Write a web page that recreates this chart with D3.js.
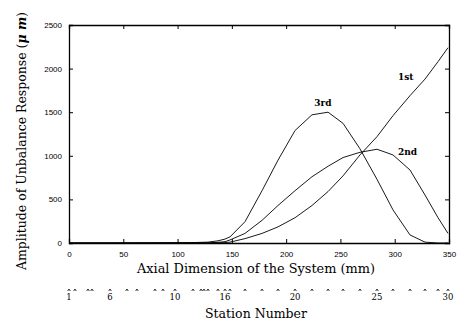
<!DOCTYPE html>
<html>
<head>
<meta charset="utf-8">
<script src="https://cdn.jsdelivr.net/npm/d3@7"></script>
<style>
  html, body { margin: 0; padding: 0; background: #fff; }
  svg { display: block; }
</style>
</head>
<body>
<svg id="chart" width="459" height="323"></svg>
<script>
// ---- data ----
const axialPos = [0, 17.5, 37.8, 62.6, 86.6, 114.2, 128, 137.2, 143.7, 148.3, 162.1, 177.8, 192.5, 208.2, 223.8, 238.6, 252.4, 268, 283.7, 298.4, 314.1, 327.9, 339.9, 349.1];
const mode1 = [0, 0, 0, 0, 0, 0, 0, 2, 5, 10, 50, 110, 185, 290, 430, 590, 770, 1010, 1220, 1460, 1690, 1880, 2080, 2240];
const mode2 = [0, 0, 0, 0, 0, 0, 2, 8, 15, 35, 110, 260, 430, 600, 760, 880, 980, 1040, 1075, 1010, 837, 550, 290, 110];
const mode3 = [0, 0, 0, 2, 3, 5, 10, 25, 45, 70, 244, 600, 950, 1290, 1470, 1500, 1372, 1080, 730, 380, 92, 10, 0, 0];
const seriesNames = ["1st", "2nd", "3rd"];
const labelAt = [[303, 1870], [303, 1009], [226, 1571]]; // label anchor in data units

const xTicks = [0, 50, 100, 150, 200, 250, 300, 350];
const yTicks = [0, 500, 1000, 1500, 2000, 2500];

// station marks (axial position, mm) and numbered stations
const stationPos = [0, 5.5, 17.5, 21.2, 37.8, 53.4, 62.6, 79.2, 86.6, 97.6, 114.2, 121.6, 124.3, 128, 137.2, 143.7, 148.3, 162.1, 177.8, 192.5, 208.2, 223.8, 238.6, 252.4, 268, 283.7, 298.4, 314.1, 327.9, 339.9, 349.1];
const stationLabels = [["1", 0], ["6", 37.8], ["10", 97.6], ["16", 143.7], ["20", 208.2], ["25", 283.7], ["30", 349.1]];

// ---- drawing ----
const svg = d3.select("#chart");
const x = d3.scaleLinear().domain([0, 350]).range([69, 449]);
const y = d3.scaleLinear().domain([0, 2500]).range([243, 25]);

const tickFont = "'Liberation Sans', Arial, sans-serif";
const serif = "'DejaVu Serif', serif";

// axes (inward ticks, MATLAB style)
const gB = svg.append("g").attr("transform", `translate(0,${y(0)})`)
  .call(d3.axisBottom(x).tickValues(xTicks).tickSize(-4).tickPadding(8).tickFormat(d3.format("d")));
const gT = svg.append("g").attr("transform", `translate(0,${y(2500)})`)
  .call(d3.axisTop(x).tickValues(xTicks).tickSize(-4).tickFormat(""));
const gL = svg.append("g").attr("transform", `translate(${x(0)},0)`)
  .call(d3.axisLeft(y).tickValues(yTicks).tickSize(-4).tickPadding(7).tickFormat(d3.format("d")));
const gR = svg.append("g").attr("transform", `translate(${x(350)},0)`)
  .call(d3.axisRight(y).tickValues(yTicks).tickSize(-4).tickFormat(""));

[gB, gT, gL, gR].forEach(g => {
  g.select(".domain").attr("stroke", "#000").attr("stroke-width", 1.3);
  g.selectAll(".tick line").attr("stroke", "#000");
  g.selectAll("text").attr("font-family", tickFont).attr("font-size", 8).attr("fill", "#000");
});

// curves
const line = d3.line().x((d, i) => x(axialPos[i])).y(d => y(d));
[mode1, mode2, mode3].forEach(s => {
  svg.append("path").datum(s).attr("d", line)
    .attr("fill", "none").attr("stroke", "#000").attr("stroke-width", 0.9);
});

// curve labels
seriesNames.forEach((n, i) => {
  svg.append("text").attr("x", x(labelAt[i][0])).attr("y", y(labelAt[i][1]))
    .attr("font-family", serif).attr("font-weight", "bold").attr("font-size", 9)
    .attr("fill", "#000").text(n);
});

// x axis title
svg.append("text").attr("x", 256).attr("y", 273).attr("text-anchor", "middle")
  .attr("font-family", serif).attr("font-size", 12.5).attr("fill", "#000")
  .attr("textLength", 238).attr("lengthAdjust", "spacingAndGlyphs")
  .text("Axial Dimension of the System (mm)");

// y axis title
const yt = svg.append("text").attr("transform", "translate(26,141) rotate(-90)")
  .attr("text-anchor", "middle").attr("font-family", serif).attr("font-size", 12.5)
  .attr("fill", "#000").attr("textLength", 258).attr("lengthAdjust", "spacingAndGlyphs");
yt.append("tspan").text("Amplitude of Unbalance Response (");
yt.append("tspan").attr("font-style", "italic").attr("font-weight", "bold").text("\u03bc m");
yt.append("tspan").text(")");

// station marks
svg.append("g").selectAll("path").data(stationPos).join("path")
  .attr("d", d => `M${x(d) - 1.3},${291} L${x(d)},${289} L${x(d) + 1.3},${291}`)
  .attr("fill", "none").attr("stroke", "#000").attr("stroke-width", 0.8);

svg.append("g").selectAll("text").data(stationLabels).join("text")
  .attr("x", d => x(d[1])).attr("y", 300).attr("text-anchor", "middle")
  .attr("font-family", serif).attr("font-size", 8.5).attr("fill", "#000")
  .text(d => d[0]);

svg.append("text").attr("x", 256).attr("y", 318).attr("text-anchor", "middle")
  .attr("font-family", serif).attr("font-size", 12.5).attr("fill", "#000")
  .attr("textLength", 102).attr("lengthAdjust", "spacingAndGlyphs")
  .text("Station Number");
</script>
</body>
</html>
